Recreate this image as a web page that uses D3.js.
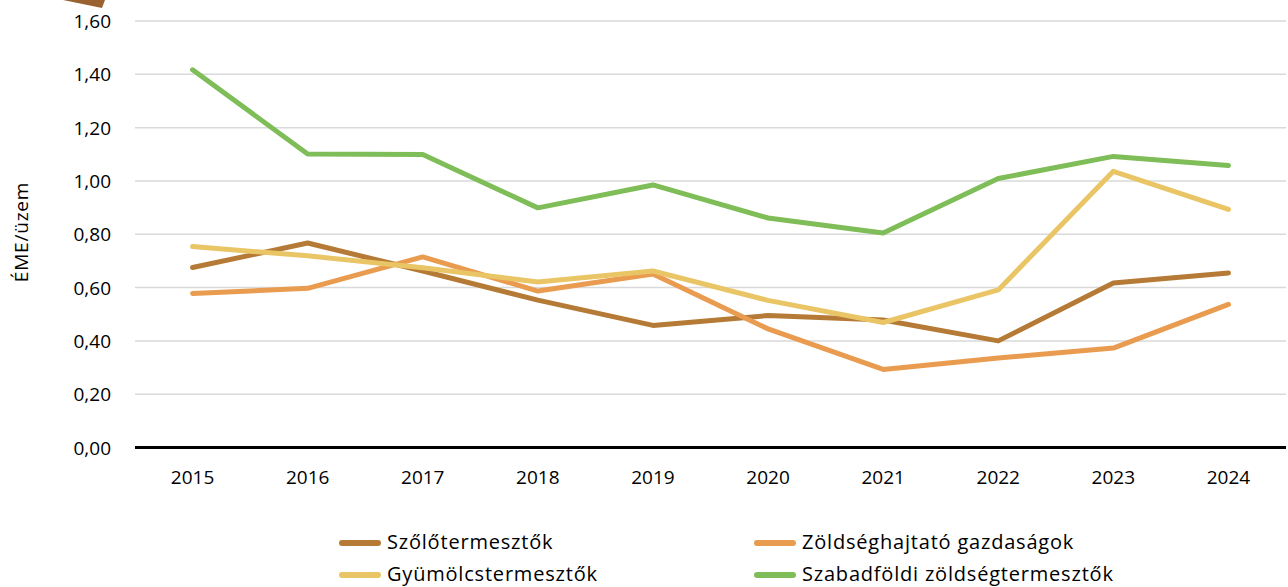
<!DOCTYPE html>
<html><head><meta charset="utf-8">
<script src="https://cdn.jsdelivr.net/npm/d3@7"></script>
<style>body{margin:0;background:#fff}svg{display:block}text{font-family:"Open Sans",sans-serif;fill:#000}</style>
</head><body><svg id="c" width="1288" height="587"></svg>
<script>
const years = ["2015","2016","2017","2018","2019","2020","2021","2022","2023","2024"];
const yTicks = [0,0.2,0.4,0.6,0.8,1.0,1.2,1.4,1.6];
const seriesNames = ["Szőlőtermesztők","Zöldséghajtató gazdaságok","Gyümölcstermesztők","Szabadföldi zöldségtermesztők"];
const szolo = [0.675,0.767,0.662,0.553,0.458,0.495,0.478,0.40,0.617,0.655];
const zoldseghajtato = [0.578,0.597,0.715,0.587,0.651,0.445,0.293,0.336,0.373,0.537];
const gyumolcs = [0.754,0.719,0.674,0.621,0.662,0.552,0.469,0.591,1.036,0.893];
const szabadfoldi = [1.417,1.101,1.099,0.899,0.985,0.861,0.805,1.009,1.092,1.058];
const colors = ["#B57A35","#E99B4F","#E9C566","#7FBD58"];

const svg = d3.select("#c");
const x = d3.scaleBand().domain(years).range([135,1286]);
const y = d3.scaleLinear().domain([0,1.6]).range([447.5,21]);
const fmt = v => d3.format(".2f")(v).replace(".",",");

// grid
svg.append("g").selectAll("line").data(yTicks.filter(d=>d>0)).join("line")
  .attr("x1",135).attr("x2",1286).attr("y1",d=>y(d)).attr("y2",d=>y(d))
  .attr("stroke","#d9d9d9").attr("stroke-width",1.5);

// y axis labels
const yAxis = d3.axisLeft(y).tickValues(yTicks).tickFormat(fmt).tickSize(0).tickPadding(0);
const ya = svg.append("g").attr("transform","translate(111,0)").call(yAxis);
ya.select(".domain").remove();
ya.selectAll("text").style("font-size","19px").attr("font-family",null).attr("dy","0.35em");

// x axis
const xAxis = d3.axisBottom(x).tickSize(0).tickPadding(0);
const xa = svg.append("g").attr("transform","translate(0,470)").call(xAxis);
xa.select(".domain").remove();
xa.selectAll("text").style("font-size","19px").attr("font-family",null).attr("dy","0.75em");

// zero line
svg.append("line").attr("x1",135).attr("x2",1286).attr("y1",y(0)).attr("y2",y(0))
  .attr("stroke","#000").attr("stroke-width",3);

// y title
svg.append("text").attr("transform","translate(28,232) rotate(-90)").attr("text-anchor","middle")
  .style("font-size","19px").style("letter-spacing","0.8px").text("ÉME/üzem");

// lines
const data = [szolo, zoldseghajtato, gyumolcs, szabadfoldi];
const line = d3.line().x((d,i)=>x(years[i])+x.bandwidth()/2).y(d=>y(d));
data.forEach((s,k)=>{
  svg.append("path").datum(s).attr("d",line).attr("fill","none")
    .attr("stroke",colors[k]).attr("stroke-width",5).attr("stroke-linecap","round").attr("stroke-linejoin","round");
});

// legend
const legPos = [[340,543],[755,543],[340,575],[755,575]];
seriesNames.forEach((n,k)=>{
  const g = svg.append("g").attr("transform",`translate(${legPos[k][0]},${legPos[k][1]})`);
  g.append("line").attr("x1",2).attr("x2",38).attr("y1",0).attr("y2",0)
    .attr("stroke",colors[k]).attr("stroke-width",6).attr("stroke-linecap","round");
  g.append("text").attr("x",47).attr("y",-1).attr("dy","0.35em").style("font-size","20px")
    .style("letter-spacing","0.8px").text(n);
});

// top-left decoration
svg.append("path").attr("d","M63,0 L105,0 L102,8 Z").attr("fill","#9A6230");
</script></body></html>
